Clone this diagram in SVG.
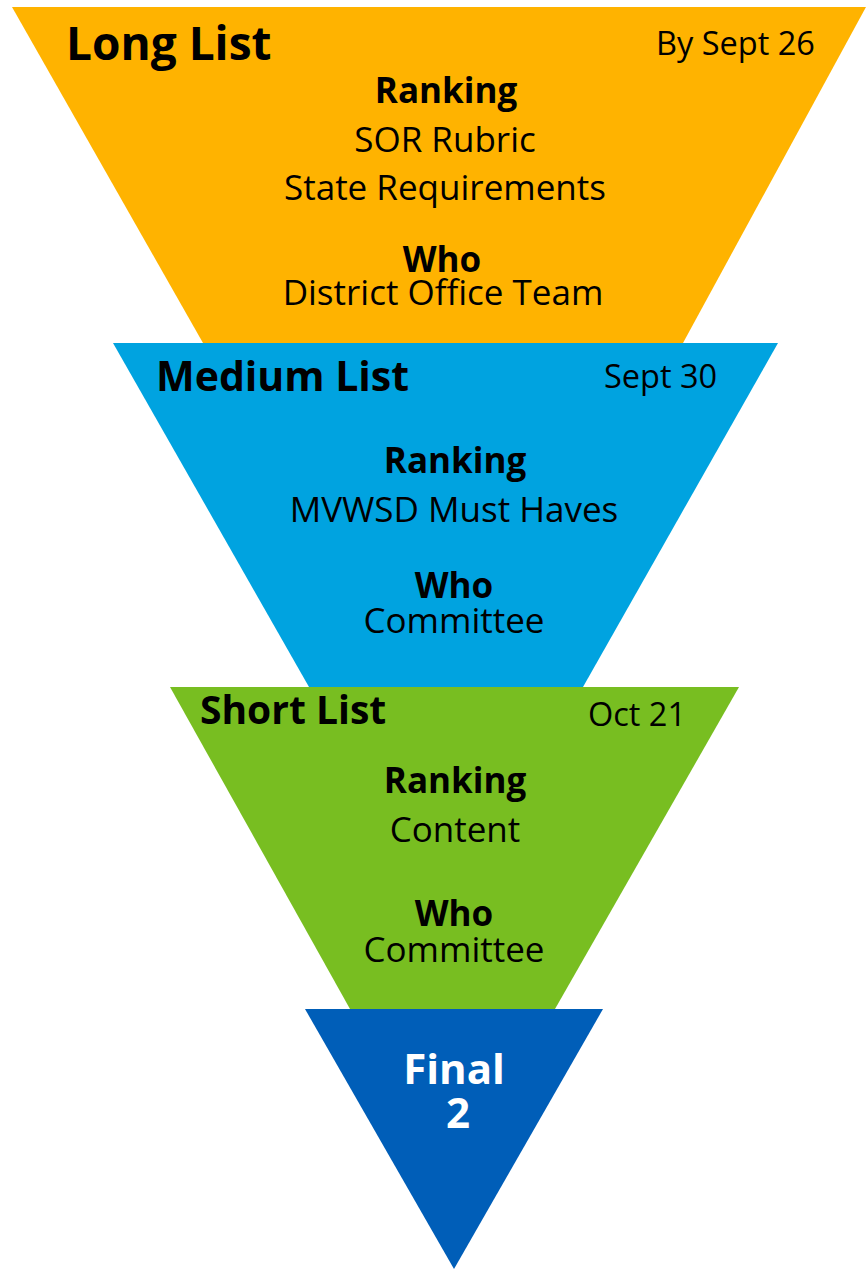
<svg xmlns="http://www.w3.org/2000/svg" width="866" height="1269" viewBox="0 0 866 1269">
  <style>
    text { font-family: "Open Sans", "Noto Sans", "Liberation Sans", sans-serif; fill: #000; }
    .title { font-weight: 700; }
    .date { font-size: 32.5px; }
    .head { font-weight: 700; font-size: 35px; text-anchor: middle; }
    .body { font-size: 35px; text-anchor: middle; }
    .final { font-weight: 700; font-size: 42px; text-anchor: middle; fill: #fff; }
  </style>
  <rect width="866" height="1269" fill="#fff"/>
  <g id="long-list">
    <polygon points="12,7 866,7 683,343 203,343" fill="#FFB300"/>
    <text class="title" x="66" y="60" font-size="46">Long List</text>
    <text class="date" x="656" y="55">By Sept 26</text>
    <text class="head" x="446" y="103">Ranking</text>
    <text class="body" x="445" y="152">SOR Rubric</text>
    <text class="body" x="445" y="200">State Requirements</text>
    <text class="head" x="442" y="272">Who</text>
    <text class="body" x="443" y="305">District Office Team</text>
  </g>
  <g id="medium-list">
    <polygon points="113,343 778,343 583,687 309,687" fill="#00A3E0"/>
    <text class="title" x="156" y="391" font-size="41">Medium List</text>
    <text class="date" x="604" y="388">Sept 30</text>
    <text class="head" x="455" y="473">Ranking</text>
    <text class="body" x="454" y="522">MVWSD Must Haves</text>
    <text class="head" x="454" y="598">Who</text>
    <text class="body" x="454" y="633">Committee</text>
  </g>
  <g id="short-list">
    <polygon points="170,687 739,687 555,1009 350,1009" fill="#78BE21"/>
    <text class="title" x="200" y="724" font-size="39">Short List</text>
    <text class="date" x="588" y="726">Oct 21</text>
    <text class="head" x="455" y="793">Ranking</text>
    <text class="body" x="455" y="842">Content</text>
    <text class="head" x="454" y="926">Who</text>
    <text class="body" x="454" y="962">Committee</text>
  </g>
  <g id="final">
    <polygon points="305,1009 603,1009 454,1269" fill="#005EB8"/>
    <text class="final" x="454" y="1084">Final</text>
    <text class="final" x="458" y="1128">2</text>
  </g>
  <g id="connectors"/>
</svg>
